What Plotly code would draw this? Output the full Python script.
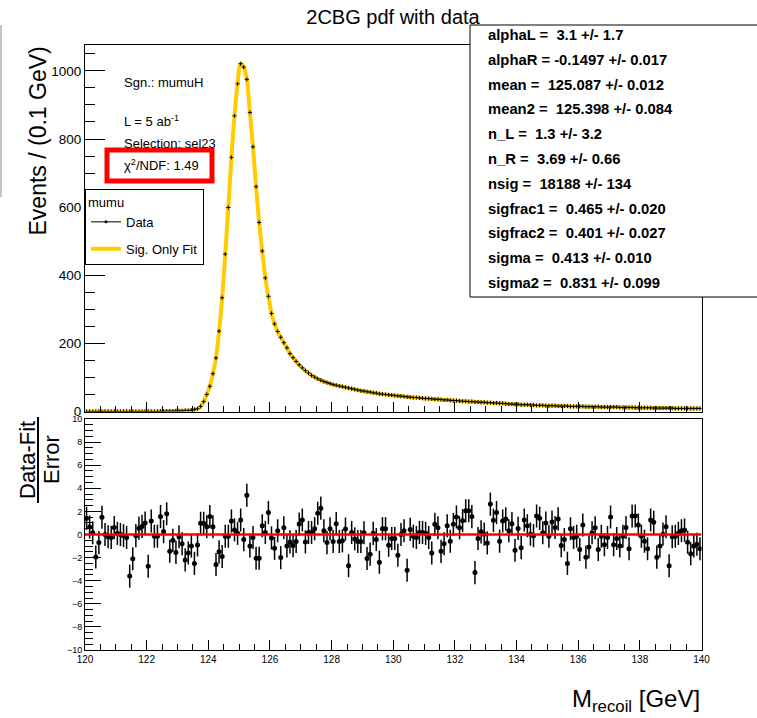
import numpy as np
import plotly.graph_objects as go

# ---------------- data ----------------
x_lo, x_hi, n_bins = 120.0, 140.0, 200
bin_centers = np.linspace(x_lo + 0.05, x_hi - 0.05, n_bins)

events = [
    0, 0, 0, 0, 0, 0, 0, 0, 0, 0,
    0, 0, 0, 0, 0, 0, 0, 0, 0, 0,
    0, 0, 0, 0, 1, 1, 1, 1, 1, 2,
    2, 2, 3, 3, 4, 6, 8, 15, 29, 50,
    74, 111, 157, 236, 334, 462, 599, 746, 868, 962,
    1021, 1011, 975, 878, 777, 660, 555, 471, 392, 338,
    288, 257, 235, 218, 202, 187, 170, 158, 147, 137,
    128, 120, 113, 106, 101, 96, 92, 88, 85, 82,
    79, 77, 75, 73, 71, 69, 67, 65, 63, 61,
    60, 58, 57, 55, 54, 52, 51, 50, 49, 48,
    47, 46, 45, 44, 43, 42, 41, 41, 40, 39,
    38, 38, 37, 36, 36, 35, 34, 34, 33, 32,
    32, 31, 30, 30, 29, 29, 28, 28, 27, 27,
    26, 26, 25, 25, 24, 24, 23, 22, 22, 21,
    21, 20, 20, 20, 19, 19, 18, 18, 18, 17,
    17, 17, 17, 16, 16, 16, 16, 15, 15, 15,
    15, 15, 14, 14, 14, 14, 14, 13, 13, 13,
    13, 13, 13, 12, 12, 12, 12, 12, 11, 11,
    11, 11, 11, 11, 10, 10, 10, 10, 10, 10,
    10, 9, 9, 9, 9, 9, 9, 9, 9, 9,
]

pulls = [
    1.4, 0.65, 0.15, -1.95, -0.7, 1.5, 0.0, -0.2, -0.25, 0.6,
    0.1, 0.0, -0.1, -0.25, -3.6, -2.1, -0.1, 0.55, 0.7, 1.0,
    -2.75, 1.17, -0.15, -0.15, 1.55, 0.25, 1.8, -1.45, -0.5, -1.55,
    -0.2, -0.8, -2.2, -1.6, -1.0, -2.5, -0.9, 0.97, 0.97, 0.67,
    1.55, 0.67, -2.6, -1.5, -1.9, -0.15, -0.15, 1.17, 0.4, 0.1,
    1.26, -0.44, 3.4, -1.0, -0.26, -2.05, -2.05, 0.76, 0.18, 1.9,
    -0.3, -1.2, 0.32, -2.0, 0.58, -1.0, -0.64, -0.96, -0.6, 0.9,
    1.26, -0.64, 0.18, 0.18, 0.5, 1.84, 2.28, 0.32, -0.7, 0.5,
    -0.6, 0.94, -0.6, -0.55, 0.47, -2.7, 0.18, -0.38, -0.6, -0.6,
    0.15, -2.08, -1.7, 0.1, -0.44, -2.4, 0.5, 0.5, -0.93, -0.35,
    -0.35, -1.8, 0.0, 0.32, -3.1, 0.44, -0.15, -0.26, 0.18, 0.18,
    0.1, -0.26, -1.6, 0.88, 0.58, -1.46, -0.8, 0.76, -0.58, 0.88,
    1.52, 0.58, 1.2, 2.05, 2.05, 1.55, -3.3, -0.35, 0.23, 0.03,
    -0.73, 2.63, 1.23, 1.9, -0.58, 1.17, 1.35, 0.32, 0.94, -1.37,
    0.53, -1.14, 1.26, 0.76, 0.03, -0.1, 1.6, 1.4, 0.15, 1.0,
    -0.15, 1.08, 0.6, 1.35, -0.96, -0.44, -2.5, 0.5, -0.26, -0.15,
    -1.3, 0.82, -1.96, -1.08, 0.15, 0.58, -1.3, -0.15, -0.88, -0.26,
    1.52, -0.88, -0.35, -1.0, -0.15, 0.6, -1.23, 1.6, 1.6, 0.82,
    -0.15, -0.58, -1.23, 1.26, 1.05, -1.96, -1.0, 0.03, 0.67, -2.7,
    -0.2, -0.15, 0.1, 0.32, 0.38, -0.67, -1.67, -1.0, -0.85, -1.23,
]

fit_params = [
    "alphaL =  3.1 +/- 1.7",
    "alphaR = -0.1497 +/- 0.017",
    "mean =  125.087 +/- 0.012",
    "mean2 =  125.398 +/- 0.084",
    "n_L =  1.3 +/- 3.2",
    "n_R =  3.69 +/- 0.66",
    "nsig =  18188 +/- 134",
    "sigfrac1 =  0.465 +/- 0.020",
    "sigfrac2 =  0.401 +/- 0.027",
    "sigma =  0.413 +/- 0.010",
    "sigma2 =  0.831 +/- 0.099",
]

info_lines = ["Sgn.: mumuH", "L = 5 ab<sup>-1</sup>", "Selection: sel23"]
chi2_text = "χ<sup>2</sup>/NDF: 1.49"

# ---------------- geometry helpers ----------------
W, H = 757, 718
FONT = "Liberation Sans, Arial, Helvetica, sans-serif"


def px(xp):
    return xp / W


def py(yp):
    return 1 - yp / H


fig = go.Figure()

fig.add_trace(go.Scatter(
    x=bin_centers, y=events, mode="lines", name="Sig. Only Fit",
    line=dict(color="#FFCC00", width=4, shape="spline"),
    xaxis="x", yaxis="y", legendrank=2, legendgroup="fit",
))
fig.add_trace(go.Scatter(
    x=bin_centers, y=events, mode="markers", name="Data", showlegend=False,
    marker=dict(symbol="cross-thin", size=3, color="black",
                line=dict(width=1, color="black")),
    xaxis="x", yaxis="y", legendgroup="data",
))
# legend-only entry for the data (ROOT style: short line with a dot)
fig.add_trace(go.Scatter(
    x=[None], y=[None], mode="lines+markers", name="Data",
    line=dict(color="black", width=1),
    marker=dict(symbol="circle", size=3, color="black"),
    xaxis="x", yaxis="y", legendrank=1, legendgroup="data",
))
fig.add_trace(go.Scatter(
    x=bin_centers, y=pulls, mode="markers", showlegend=False,
    marker=dict(size=5, color="black"),
    error_y=dict(type="constant", value=1, thickness=1.5, width=0, color="black"),
    xaxis="x2", yaxis="y2",
))

# red zero line in ratio panel
fig.add_shape(type="line", xref="x2", yref="y2", x0=x_lo, x1=x_hi, y0=0, y1=0,
              line=dict(color="#ff0000", width=2.5), layer="above")

axis_common = dict(showline=True, linecolor="black", linewidth=1, mirror=True,
                   showgrid=False, zeroline=False, ticks="inside", automargin=False,
                   tickcolor="black", tickfont=dict(family=FONT, color="black"))

X0, X1 = 85, 701.5
fig.update_layout(
    width=W, height=H, autosize=False,
    margin=dict(l=0, r=0, t=0, b=0, pad=0, autoexpand=False),
    paper_bgcolor="white", plot_bgcolor="white",
    font=dict(family=FONT, color="black"),
    title=dict(text="2CBG pdf with data", x=px(393), xanchor="center",
               y=py(17), yanchor="middle", yref="container",
               font=dict(size=20, family=FONT, color="black")),
    xaxis=dict(domain=[px(X0), px(X1)], range=[x_lo, x_hi], anchor="y",
               showticklabels=False, tick0=x_lo, dtick=2, ticklen=10,
               minor=dict(ticks="inside", dtick=0.5, ticklen=6, tickcolor="black"),
               **axis_common),
    yaxis=dict(domain=[py(411.5), py(45)], range=[0, 1076], anchor="x",
               dtick=200, ticklen=20,
               minor=dict(ticks="inside", dtick=50, ticklen=10, tickcolor="black"),
               **{**axis_common, "tickfont": dict(family=FONT, size=13.5, color="black")}),
    xaxis2=dict(domain=[px(X0), px(X1)], range=[x_lo, x_hi], anchor="y2",
                tick0=x_lo, dtick=2, ticklen=10,
                minor=dict(ticks="inside", dtick=0.5, ticklen=6, tickcolor="black"),
                **{**axis_common, "tickfont": dict(family=FONT, size=10, color="black")}),
    yaxis2=dict(domain=[py(650), py(419)], range=[-10, 10], anchor="x2",
                dtick=2, ticklen=16,
                minor=dict(ticks="inside", dtick=0.5, ticklen=8, tickcolor="black"),
                **{**axis_common, "tickfont": dict(family=FONT, size=9, color="black")}),
    legend=dict(x=px(85), y=py(189), xanchor="left", yanchor="top",
                bgcolor="white", bordercolor="black", borderwidth=1,
                font=dict(family=FONT, size=13, color="black"),
                title=dict(text="mumu", font=dict(family=FONT, size=13, color="black")),
                tracegroupgap=7, itemwidth=30),
    showlegend=True,
)

shapes = []
# red chi2 box
shapes.append(dict(type="rect", xref="paper", yref="paper",
                   x0=px(107), x1=px(212), y0=py(181), y1=py(150),
                   line=dict(color="#ff0000", width=5), fillcolor="white", layer="above"))
# parameter box
shapes.append(dict(type="rect", xref="paper", yref="paper",
                   x0=px(470), x1=px(770), y0=py(297), y1=py(25),
                   line=dict(color="black", width=1), fillcolor="white", layer="above"))
# fraction bar of ratio-axis title
shapes.append(dict(type="line", xref="paper", yref="paper",
                   x0=px(38), x1=px(38), y0=py(503), y1=py(417),
                   line=dict(color="black", width=2)))
# stray canvas edge line at far left
shapes.append(dict(type="line", xref="paper", yref="paper",
                   x0=px(1), x1=px(1), y0=py(197), y1=py(25),
                   line=dict(color="#888888", width=1)))
for s in shapes:
    fig.add_shape(**s)

ann = []
ann.append(dict(text="Events / (0.1 GeV)", x=px(38), y=py(45), xanchor="center",
                yanchor="top", textangle=-90, font=dict(size=23)))
ann.append(dict(text="Data-Fit", x=px(27), y=py(460), xanchor="center",
                yanchor="middle", textangle=-90, font=dict(size=22)))
ann.append(dict(text="Error", x=px(51), y=py(460), xanchor="center",
                yanchor="middle", textangle=-90, font=dict(size=22)))
ann.append(dict(text="M<sub>recoil</sub> [GeV]", x=px(702), y=py(700),
                xanchor="right", yanchor="middle", font=dict(size=24)))
info_y = [82, 121, 143]
for t, yy in zip(info_lines, info_y):
    ann.append(dict(text=t, x=px(122), y=py(yy), xanchor="left", yanchor="middle",
                    font=dict(size=13)))
ann.append(dict(text=chi2_text, x=px(122), y=py(165), xanchor="left",
                yanchor="middle", font=dict(size=13)))
for k, t in enumerate(fit_params):
    ann.append(dict(text="<b>" + t + "</b>", x=px(486), y=py(35 + 24.8 * k),
                    xanchor="left", yanchor="middle", font=dict(size=14.8)))

for a in ann:
    a.setdefault("xref", "paper")
    a.setdefault("yref", "paper")
    a["showarrow"] = False
    a["font"] = dict(family=FONT, color="black", **a["font"])
    fig.add_annotation(**a)

fig.write_html(
    "out.html",
    config={"displayModeBar": False},
    post_script="document.body.style.margin='0';document.body.style.overflow='hidden';",
)
